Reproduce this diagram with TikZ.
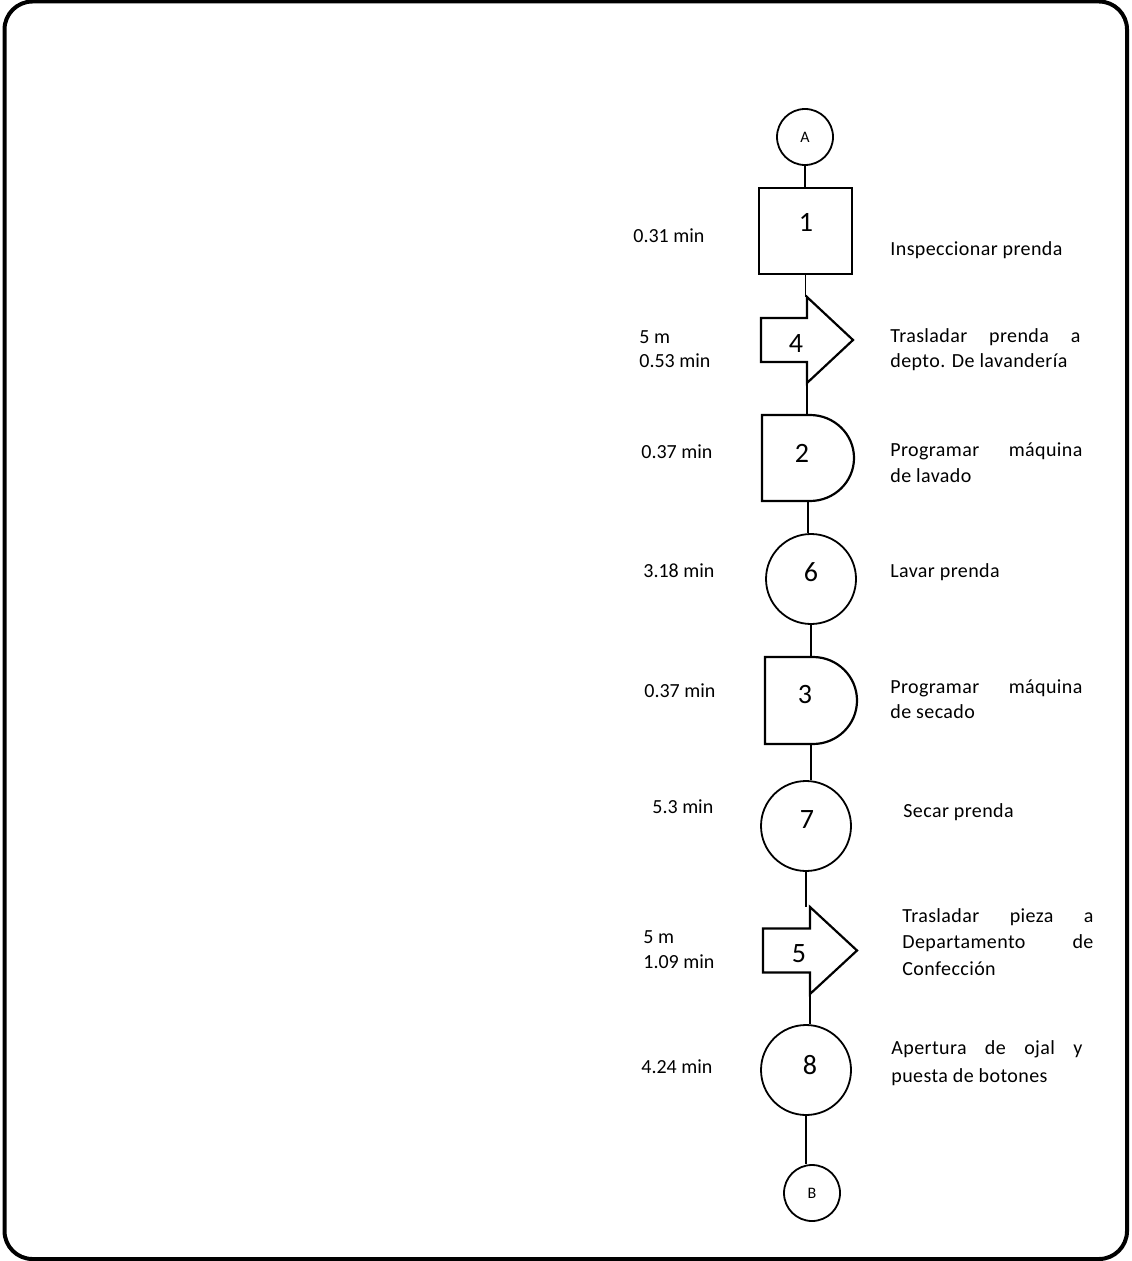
\documentclass[tikz,border=0pt]{standalone}
\usepackage{fontspec}
\setmainfont{Carlito}
\usetikzlibrary{calc}
\begin{document}
\begin{tikzpicture}[x=0.5pt,y=-0.5pt,
  conn/.style={line width=0.6pt},
  shp/.style={line width=1.1pt, line join=miter},
  bigcirc/.style={circle, draw, line width=0.9pt, minimum size=45pt, inner sep=0pt},
  endcirc/.style={circle, draw, line width=0.9pt, minimum size=28pt, inner sep=0pt, font=\fontsize{8}{9}\selectfont},
  shapebox/.style={draw=none, inner sep=0pt, minimum width=46pt, minimum height=43pt},
  num/.style={font=\fontsize{14}{16}\selectfont, inner sep=0pt},
  txt/.style={font=\fontsize{10}{12}\selectfont, inner sep=0pt, anchor=base west},
  rtxt/.style={txt, font=\fontsize{10}{12}\selectfont\addfontfeature{LetterSpace=2}},
]
\useasboundingbox (0,0) rectangle (1131,1261);
\draw[line width=2pt, rounded corners=14pt] (4.5,1.5) rectangle (1127,1259);

% shapes
\node[endcirc] (A) at (805,137) {A};
\node[draw, shp, minimum width=46.5pt, minimum height=43pt, inner sep=0pt] (s1) at (805.5,231) {};
\node[shapebox] (t4) at (807,340) {};
\node[shapebox] (d2) at (808,458) {};
\node[bigcirc] (c6) at (811,579) {};
\node[shapebox] (d3) at (811,700.5) {};
\node[bigcirc] (c7) at (806,826) {};
\node[shapebox] (t5) at (810,950.5) {};
\node[bigcirc] (c8) at (806,1070) {};
\node[endcirc] (B) at (812,1193) {B};

\begin{scope}[shift={(t4.center)}]
\draw[shp] (-46,-22) -- (0,-22) -- (0,-43) -- (46,0) -- (0,43) -- (0,22) -- (-46,22) -- cycle;
\end{scope}
\begin{scope}[shift={(t5.center)}]
\draw[shp] (-47,-22) -- (0,-22) -- (0,-43.5) -- (47,0) -- (0,43.5) -- (0,22) -- (-47,22) -- cycle;
\end{scope}
\begin{scope}[shift={(d2.center)}]
\draw[shp] (-46,-43) -- (2,-43) arc[start angle=-90, end angle=90, x radius=44, y radius=43] -- (-46,43) -- cycle;
\end{scope}
\begin{scope}[shift={(d3.center)}]
\draw[shp] (-46,-43.5) -- (2,-43.5) arc[start angle=-90, end angle=90, x radius=44, y radius=43.5] -- (-46,43.5) -- cycle;
\end{scope}

% numbers
\node[num] (n1) at (806,222) {1};
\node[num] (n4) at (796,344) {4};
\node[num] (n2) at (802,453) {2};
\node[num] (n6) at (811,572) {6};
\node[num] (n3) at (805,695) {3};
\node[num] (n7) at (807,820) {7};
\node[num] (n5) at (799,954) {5};
\node[num] (n8) at (810,1065) {8};

% connectors
\draw[conn] (A.south) -- (A.south |- s1.north);
\draw[conn] (s1.south) -- (s1.south |- t4.north);
\draw[conn] (t4.south) -- (t4.south |- d2.north);
\draw[conn] (d2.south) -- (d2.south |- c6.north);
\draw[conn] (c6.south) -- (c6.south |- d3.north);
\draw[conn] (d3.south) -- (d3.south |- c7.north);
\draw[conn] (c7.south) -- (c7.south |- t5.north);
\draw[conn] (t5.south) -- (t5.south |- c8.north);
\draw[conn] (c8.south) -- (c8.south |- B.north);

% left labels
\node[txt] (m1) at (633,243) {0.31 min};
\node[txt] (m4a) at (639,344) {5 m};
\node[txt] (m4b) at (639,368) {0.53 min};
\node[txt] (m2) at (641,458) {0.37 min};
\node[txt] (m6) at (643,577) {3.18 min};
\node[txt] (m3) at (644,697) {0.37 min};
\node[txt] (m7) at (652,813) {5.3 min};
\node[txt] (m5a) at (643,943) {5 m};
\node[txt] (m5b) at (643,968) {1.09 min};
\node[txt] (m8) at (641,1073) {4.24 min};

% right labels
\node[rtxt] (r1) at (890,256) {Inspeccionar prenda};
\node[rtxt] (r4a) at (890,343) {\makebox[95pt][s]{Trasladar prenda a}};
\node[rtxt] (r4b) at (890,368) {depto. De lavandería};
\node[rtxt] (r2a) at (890,456) {\makebox[96pt][s]{Programar máquina}};
\node[rtxt] (r2b) at (890,482) {de lavado};
\node[rtxt] (r6) at (890,577) {Lavar prenda};
\node[rtxt] (r3a) at (890,693) {\makebox[96pt][s]{Programar máquina}};
\node[rtxt] (r3b) at (890,718) {de secado};
\node[rtxt] (r7) at (903,817) {Secar prenda};
\node[rtxt] (r5a) at (902,922) {\makebox[95.5pt][s]{Trasladar pieza a}};
\node[rtxt] (r5b) at (902,948) {\makebox[95.5pt][s]{Departamento de}};
\node[rtxt] (r5c) at (902,975) {Confección};
\node[rtxt] (r8a) at (891,1054) {\makebox[95.5pt][s]{Apertura de ojal y}};
\node[rtxt] (r8b) at (891,1082) {puesta de botones};
\end{tikzpicture}
\end{document}
